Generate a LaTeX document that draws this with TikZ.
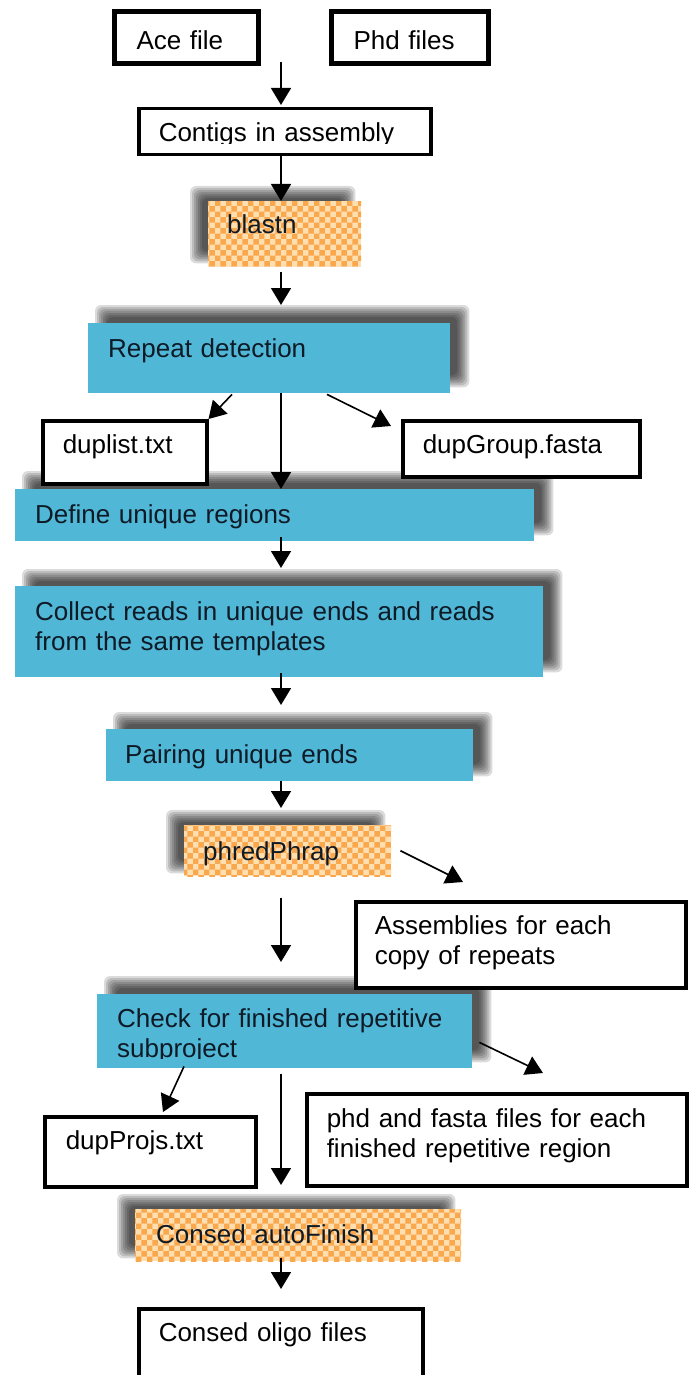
\documentclass[tikz,border=0pt]{standalone}
\usepackage{fontspec}
\setmainfont{Liberation Sans}
\usepackage{trimclip}
\usetikzlibrary{arrows.meta}
\usetikzlibrary{calc}
\usetikzlibrary{patterns}
\definecolor{stepblue}{RGB}{80,183,214}
\definecolor{dotorange}{RGB}{250,168,78}
\definecolor{creamorange}{RGB}{255,222,176}
\definecolor{inkblue}{RGB}{14,26,38}
\def\midx{281}
\pgfdeclarelayer{background}
\pgfsetlayers{background,main}
\tikzset{
  every node/.style={font=\fontsize{26}{30}\selectfont, anchor=north west, inner ysep=0pt, inner xsep=20pt, align=left},
  filebox/.style={draw, line width=3.5pt, fill=white},
  bluestep/.style={fill=stepblue, text=inkblue},
  toolstep/.style={preaction={fill=creamorange}, pattern=checkerboard, pattern color=dotorange, text=inkblue},
  shadowlayer/.style={fill=black, opacity=0.14, rounded corners=6pt},
  arr/.style={-{Triangle[width=20pt,length=17pt]}, line width=1.6pt}
}
\begin{document}
\begin{tikzpicture}[x=1pt,y=-1pt]
\useasboundingbox (0,0) rectangle (689,1375);
\coordinate (mid) at (\midx,0);

% inputs
\node[filebox, line width=5pt, inner xsep=22pt, text width=100pt, text height=38pt, text depth=14pt] (ace) at (112,9) {Ace file};
\node[filebox, line width=5pt, inner xsep=22pt, text width=113pt, text height=38pt, text depth=14pt] (phd) at (329,9) {Phd files};
\node[filebox, text width=252pt, text height=33pt, text depth=13pt] (contigs) at (137,107) {\clipbox{0pt 3.5pt 0pt 0pt}{Contigs in assembly}};

% repeat detection
\node[toolstep, inner xsep=19pt, text width=115pt, text height=32pt, text depth=33pt] (blastn) at (208,201) {blastn};
\node[bluestep, text width=322pt, text height=34pt, text depth=36pt] (repeat) at (88,323) {Repeat detection};
\node[filebox, text width=124pt, text height=33pt, text depth=30pt] (duplist) at (41,419) {duplist.txt};
\node[filebox, text width=197pt, text height=33pt, text depth=23pt] (dupgroup) at (401,419) {dupGroup.fasta};

% unique regions
\node[bluestep, text width=479pt, text height=34pt, text depth=18pt] (define) at (15,489) {Define unique regions};
\node[bluestep, text width=488pt, text height=34pt, text depth=57pt] (collect) at (15,586) {Collect reads in unique ends and reads\\from the same templates};
\node[bluestep, inner xsep=19pt, text width=329pt, text height=34pt, text depth=18pt] (pairing) at (106,729) {Pairing unique ends};
\node[toolstep, inner xsep=19pt, text width=169pt, text height=35pt, text depth=16pt] (phred) at (184,825) {phredPhrap};
\node[filebox, inner xsep=19pt, text width=292pt, text height=33pt, text depth=53pt] (assemblies) at (354,900) {Assemblies for each\\copy of repeats};

% finishing
\node[bluestep, text width=335pt, text height=33pt, text depth=41pt] (check) at (97,994) {Check for finished repetitive\\\clipbox{0pt 4pt 0pt 0pt}{subproject}};
\node[filebox, inner xsep=21pt, text width=169pt, text height=33pt, text depth=37pt] (dupprojs) at (43,1115) {dupProjs.txt};
\node[filebox, text width=340pt, text height=34pt, text depth=58pt] (phdfasta) at (305,1092) {phd and fasta files for each\\finished repetitive region};
\node[toolstep, inner xsep=21pt, text width=284pt, text height=34pt, text depth=18pt] (autofinish) at (135,1209) {Consed autoFinish};
\node[filebox, text width=244pt, text height=33pt, text depth=60pt] (oligo) at (137,1307) {Consed oligo files};

% soft shadows behind the step boxes
\begin{pgfonlayer}{background}
\fill[white] (0,0) rectangle (689,1375);
\foreach \nd/\dx/\dy in {blastn/-12/-9, repeat/13/-12, define/13/-12, collect/13/-11,
    pairing/13/-11, phred/-12/-9, check/13/-12, autofinish/-12/-9}
  \foreach \e in {6,4,...,-6}
    \fill[shadowlayer] ($(\nd.north west)+(\dx-\e,\dy-\e)$) rectangle ($(\nd.south east)+(\dx+\e,\dy+\e)$);
\end{pgfonlayer}

\draw[arr] ($(mid |- ace.south)+(0,-4)$) -- ($(mid |- contigs.north)+(0,-2)$);
\draw[arr] (mid |- contigs.south) -- (mid |- blastn.north);
\draw[arr] ($(mid |- blastn.south)+(0,6)$) -- ($(mid |- repeat.north)+(0,-18)$);
\draw[arr] ($(repeat.south west)+(144,1)$) -- (duplist.north east);
\draw[arr] ($(repeat.south west)+(239,1)$) -- ($(dupgroup.north west)+(-10,7)$);
\draw[arr] (mid |- repeat.south) -- (mid |- define.north);
\draw[arr] ($(mid |- define.south)+(0,-4)$) -- ($(mid |- collect.north)+(0,-18)$);
\draw[arr] ($(mid |- collect.south)+(0,-4)$) -- ($(mid |- pairing.north)+(0,-24)$);
\draw[arr] (mid |- pairing.south) -- ($(mid |- phred.north)+(0,-17)$);
\draw[arr] ($(phred.east)+(9,0)$) -- ($(assemblies.north west)+(109,-18)$);
\draw[arr] ($(mid |- phred.south)+(0,22)$) -- ($(mid |- check.north)+(0,-32)$);
\draw[arr] ($(check.south west)+(87,-2)$) -- ($(dupprojs.north west)+(120,-3)$);
\draw[arr] ($(check.south east)+(7,-26)$) -- ($(phdfasta.north west)+(238,-19)$);
\draw[arr] ($(mid |- check.south)+(0,6)$) -- ($(mid |- autofinish.north)+(0,-24)$);
\draw[arr] ($(mid |- autofinish.south)+(0,-3)$) -- ($(mid |- oligo.north)+(0,-18)$);
\end{tikzpicture}
\end{document}
